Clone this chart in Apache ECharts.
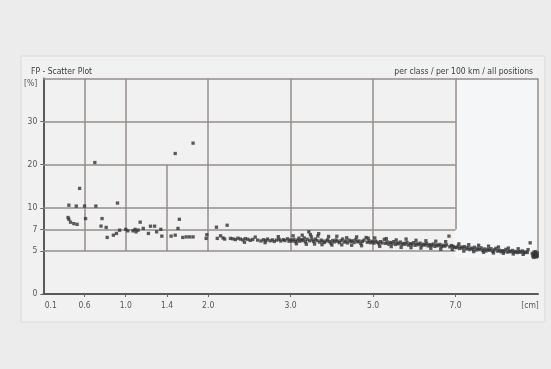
<!DOCTYPE html>
<html><head><meta charset="utf-8">
<script src="https://cdn.jsdelivr.net/npm/echarts@6/dist/echarts.min.js"></script>
<style>html,body{margin:0;padding:0;background:#ececec;} #c{width:551px;height:369px;}</style>
</head><body><div id="c"></div>
<script>
// Class limits of the (non-linear) axes and their tick labels
const xClassLimits = [0.1, 0.6, 1.0, 1.4, 2.0, 3.0, 5.0, 7.0, 9.0];
const xClassPos    = [0, 1, 2, 3, 4, 6, 8, 10, 12];
const xTickLabels  = ['0.1', '0.6', '1.0', '1.4', '2.0', '3.0', '5.0', '7.0', '[cm]'];
const yClassLimits = [0, 5, 7, 10, 20, 30, 40];
const yClassPos    = [0, 2, 3, 4, 6, 8, 10];
const yTickLabels  = ['0', '5', '7', '10', '20', '30', '[%]'];

// Scatter values [cm, %]
const pointsSmall = [
  [0.41,10.6],[0.50,10.4],[0.60,10.4],[0.54,14.5],[0.70,20.5],[0.71,10.4],[0.92,11.1],
  [0.40,8.65],[0.41,8.4],[0.43,8.0],[0.47,7.8],[0.51,7.7],[0.61,8.5],[0.77,8.5],[0.76,7.45],
  [0.81,7.27],[0.82,6.25],[0.88,6.46],[0.91,6.62],[0.94,6.92],[1.00,7.0],[1.02,6.86],
  [1.07,6.86],[1.09,7.0],[1.10,6.77],[1.12,6.93],[1.14,8.0],[1.17,7.13],[1.22,6.62],
  [1.24,7.44],[1.28,7.44],[1.30,6.77],[1.34,7.0],[1.35,6.37],[1.46,6.37],[1.52,6.46],
  [1.56,7.13],[1.58,8.4],[1.63,6.25],[1.68,6.3],[1.73,6.3],[1.78,6.3],[1.52,22.6],[1.78,25.0]
];
const pointsMid = [
  [1.97,6.16],[1.98,6.5],[2.10,7.3],[2.11,6.16],[2.15,6.4],[2.18,6.2],[2.20,6.1],[2.23,7.57],
  [2.27,6.16],[2.30,6.12],[2.33,6.05],[2.36,6.18],[2.39,6.10],[2.42,6.02],[2.45,6.14],
  [2.48,6.08],[2.51,5.98],[2.54,6.06],[2.60,6.00],[2.64,5.92],[2.67,6.04],[2.70,5.96],
  [2.72,6.10],[2.75,5.94],[2.78,6.02],[2.80,5.88],[2.83,6.00],[2.86,6.08],[2.88,5.92],
  [2.91,6.04],[2.93,5.96],[2.96,6.12],[2.98,5.90],[3.00,6.02]
];
const points3to5 = [
  [3.04,5.92],[3.08,6.06],[3.12,5.86],[3.16,6.00],[3.20,6.18],[3.22,5.90],[3.26,6.04],
  [3.30,5.96],[3.33,6.20],[3.36,5.84],[3.40,6.08],[3.44,6.77],[3.46,5.94],[3.50,6.30],
  [3.52,6.02],[3.56,5.88],[3.60,6.10],[3.64,5.96],[3.68,6.60],[3.70,5.82],[3.74,6.00],
  [3.78,5.90],[3.82,5.78],[3.86,5.92],[3.90,6.04],[3.94,5.86],[3.98,5.70],[4.02,5.96],
  [4.06,5.84],[4.10,6.02],[4.14,5.90],[4.18,5.76],[4.22,5.94],[4.26,6.10],[4.30,5.82],
  [4.34,5.92],[4.38,5.74],[4.42,6.00],[4.46,5.86],[4.50,5.94],[4.54,5.78],[4.58,6.06],
  [4.62,5.84],[4.66,5.92],[4.70,5.70],[4.74,5.88],[4.78,6.00],[4.83,6.24],[4.86,5.80],
  [4.90,5.94],[4.94,5.76],[4.98,5.88]
];
const points5to7 = [
  [5.02,5.72],[5.06,5.90],[5.10,5.80],[5.14,5.66],[5.18,5.86],[5.22,5.74],[5.27,6.07],
  [5.30,5.70],[5.34,5.84],[5.38,5.62],[5.42,5.78],[5.46,5.68],[5.50,5.86],[5.54,5.60],
  [5.58,5.74],[5.62,5.66],[5.66,5.82],[5.70,5.58],[5.74,5.70],[5.78,5.62],[5.82,5.80],
  [5.86,5.54],[5.90,5.68],[5.94,5.60],[5.98,5.76],[6.02,5.52],[6.06,5.66],[6.10,5.58],
  [6.14,5.72],[6.18,5.50],[6.22,5.62],[6.26,5.54],[6.30,5.68],[6.34,5.46],[6.38,5.58],
  [6.42,5.50],[6.46,5.64],[6.50,5.42],[6.54,5.56],[6.58,5.48],[6.62,5.60],[6.66,5.40],
  [6.70,5.52],[6.74,5.44],[6.78,5.56],[6.84,6.37],[6.86,5.38],[6.90,5.50],[6.94,5.42],
  [6.98,5.34]
];
const points7to9 = [
  [7.02,5.30],[7.06,5.44],[7.10,5.22],[7.14,5.36],[7.18,5.26],[7.22,5.40],[7.26,5.18],
  [7.30,5.30],[7.34,5.12],[7.38,5.26],[7.42,5.16],[7.46,5.34],[7.50,5.08],[7.54,5.22],
  [7.58,5.12],[7.62,5.28],[7.66,5.04],[7.70,5.18],[7.74,5.00],[7.78,5.14],[7.82,5.06],
  [7.86,5.20],[7.90,4.96],[7.94,5.10],[7.98,5.24],[8.02,4.98],[8.06,5.06],[8.10,4.90],
  [8.14,5.02],[8.18,4.94],[8.22,5.14],[8.26,4.86],[8.30,4.98],[8.34,4.90],[8.38,5.04],
  [8.42,4.84],[8.46,4.94],[8.50,4.80],[8.54,4.92],[8.58,4.86],[8.62,5.00],[8.66,4.78],
  [8.70,4.88],[8.74,4.82],[8.81,5.75],[8.86,4.70],[8.88,4.50],[8.90,4.86],[8.92,4.40],
  [8.94,4.62],[8.96,4.30],[8.98,4.76],[8.90,4.24],[8.94,4.92],[8.97,4.50],[8.88,4.36],
  [8.92,4.66],[8.98,4.40]
];
// Scattered points sitting just above / below the main band
const pointsBandSpread = [
  [2.44,5.80],[2.57,6.28],[2.69,5.76],[2.85,6.32],[3.06,6.40],[3.14,5.66],[3.28,6.46],
  [3.38,5.62],[3.48,6.52],[3.58,5.64],[3.66,6.38],[3.76,5.58],[3.92,6.34],[4.00,5.54],
  [4.12,6.36],[4.24,5.56],[4.36,6.22],[4.48,5.52],[4.60,6.30],[4.72,5.48],[4.88,6.18],
  [5.04,6.20],[5.16,5.42],[5.32,6.14],[5.44,5.40],[5.56,6.02],[5.68,5.32],[5.80,6.10],
  [5.92,5.30],[6.04,5.98],[6.16,5.26],[6.28,5.94],[6.40,5.24],[6.52,5.90],[6.64,5.16],
  [6.76,5.86],[6.92,5.14],[7.08,5.66],[7.20,4.98],[7.32,5.58],[7.44,4.92],[7.56,5.52],
  [7.68,4.84],[7.80,5.44],[7.92,4.76],[8.04,5.36],[8.16,4.72],[8.28,5.26],[8.40,4.64],
  [8.52,5.20],[8.64,4.60],[8.76,5.12]
];

// Grid frame of the class boxes: [x1, y1, x2, y2] in cm / %
const classFrame = [
  [0.6,5,0.6,40],[1.0,5,1.0,40],[1.4,5,1.4,20],[2.0,5,2.0,40],[3.0,5,3.0,40],
  [5.0,5,5.0,40],[7.0,7,7.0,40],[9.0,4.2,9.0,40],
  [0.1,40,9.0,40],[0.1,30,7.0,30],[0.1,20,7.0,20],[0.1,10,7.0,10],[0.1,7,7.0,7],[0.1,5,7.0,5]
];

function interp(v, lim, pos) {
  for (let i = 0; i < lim.length - 1; i++) {
    if (v <= lim[i + 1] || i === lim.length - 2) {
      return pos[i] + (v - lim[i]) / (lim[i + 1] - lim[i]) * (pos[i + 1] - pos[i]);
    }
  }
}
const tx = v => interp(v, xClassLimits, xClassPos);
const ty = v => interp(v, yClassLimits, yClassPos);
const toPos = p => [tx(p[0]), ty(p[1])];

const allPoints = [].concat(pointsSmall, pointsMid, points3to5, points5to7, points7to9, pointsBandSpread).map(toPos);
const frameLines = classFrame.map(s => ({ coords: [[tx(s[0]), ty(s[1])], [tx(s[2]), ty(s[3])]] }));

const FONT = "'Liberation Sans Narrow','DejaVu Sans Condensed',sans-serif";
const chart = echarts.init(document.getElementById('c'), null, { renderer: 'canvas' });
chart.setOption({
  backgroundColor: '#ececec',
  animation: false,
  graphic: { elements: [
    { type: 'rect', z: -10, shape: { x: 21, y: 56, width: 524, height: 266 },
      style: { fill: '#f1f1f1', stroke: '#dadada', lineWidth: 1 } },
    { type: 'rect', z: -9, shape: { x: 455, y: 79, width: 83, height: 179 },
      style: { fill: '#f5f6f7' } }
  ] },
  title: [
    { text: 'FP - Scatter Plot', left: 26, top: 62,
      textStyle: { fontFamily: FONT, fontSize: 8.5, fontWeight: 'normal', color: '#3c3c3c' } },
    { text: 'per class / per 100 km / all positions', right: 13, top: 62,
      textStyle: { fontFamily: FONT, fontSize: 8.5, fontWeight: 'normal', color: '#3c3c3c' } }
  ],
  grid: { left: 43.3, right: 13, top: 78.5, bottom: 75, outerBoundsMode: 'none', containLabel: false },
  xAxis: {
    type: 'value', min: 0, max: 12, interval: 1,
    splitLine: { show: false },
    axisLine: { lineStyle: { color: '#5a5a5a', width: 2 } },
    axisTick: { show: true, length: 3, lineStyle: { color: '#666', width: 1 },
      customValues: xClassPos.slice(1, -1) },
    axisLabel: {
      customValues: xClassPos, margin: 7,
      fontFamily: FONT, fontSize: 8.5, color: '#555',
      formatter: v => {
        const i = xClassPos.indexOf(v);
        if (i === 0) return '{l|' + xTickLabels[i] + '}';
        if (i === xClassPos.length - 1) return '{r|' + xTickLabels[i] + '}';
        return i >= 0 ? xTickLabels[i] : '';
      },
      rich: {
        l: { padding: [0, 0, 0, 15], fontFamily: FONT, fontSize: 8.5, color: '#555' },
        r: { padding: [0, 16, 0, 0], fontFamily: FONT, fontSize: 8.5, color: '#555' }
      }
    }
  },
  yAxis: {
    type: 'value', min: 0, max: 10, interval: 1,
    splitLine: { show: false },
    axisLine: { show: true, lineStyle: { color: '#5a5a5a', width: 2 } },
    axisTick: { show: true, length: 3, lineStyle: { color: '#666', width: 1 },
      customValues: yClassPos.slice(0, -1) },
    axisLabel: {
      customValues: yClassPos, margin: 6,
      fontFamily: FONT, fontSize: 8.5, color: '#555',
      formatter: v => {
        const i = yClassPos.indexOf(v);
        if (i === yClassPos.length - 1) return '{t|' + yTickLabels[i] + '}';
        return i >= 0 ? yTickLabels[i] : '';
      },
      rich: { t: { padding: [10, 0, 0, 0], fontFamily: FONT, fontSize: 8.5, color: '#555' } }
    }
  },
  series: [
    { type: 'lines', coordinateSystem: 'cartesian2d', z: 1, silent: true,
      lineStyle: { color: '#948d8a', width: 1.5, opacity: 1 },
      data: frameLines },
    { type: 'scatter', z: 3, symbol: 'rect', symbolSize: 3.3,
      itemStyle: { color: '#333333' },
      data: allPoints }
  ]
});
</script></body></html>
